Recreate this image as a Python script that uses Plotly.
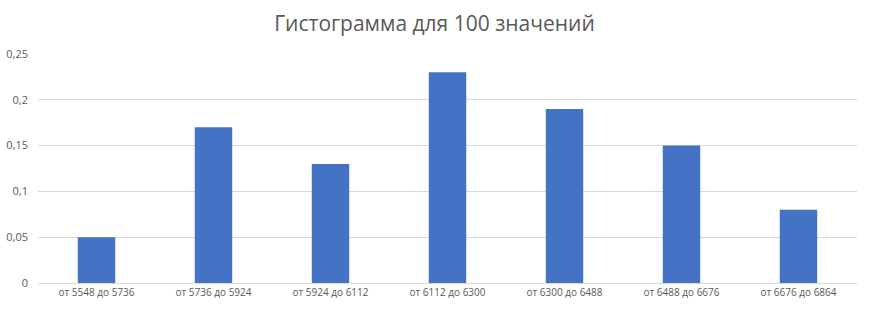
import plotly.graph_objects as go

categories = ["от 5548 до 5736", "от 5736 до 5924", "от 5924 до 6112", "от 6112 до 6300",
              "от 6300 до 6488", "от 6488 до 6676", "от 6676 до 6864"]
values = [0.05, 0.17, 0.13, 0.23, 0.19, 0.15, 0.08]

fig = go.Figure(go.Bar(x=categories, y=values, marker=dict(color="#4472C4", line=dict(width=0)),
                       hoverinfo="x+y"))

fig.update_layout(
    width=869, height=309,
    margin=dict(l=38, r=12, t=54, b=26),
    paper_bgcolor="white", plot_bgcolor="white",
    separators=", ",
    bargap=0.68,
    showlegend=False,
    font=dict(family="Open Sans", color="#595959", size=10),
    title=dict(text="Гистограмма для 100 значений", x=0.5, xanchor="center", y=0.925, yanchor="middle",
               font=dict(family="Open Sans", size=21, color="#595959")),
    xaxis=dict(showgrid=False, showline=True, linecolor="#d9d9d9", linewidth=1, ticks="",
               automargin=False, tickfont=dict(size=10, color="#595959")),
    yaxis=dict(range=[0, 0.25], dtick=0.05, tick0=0, showgrid=True, gridcolor="#d9d9d9",
               gridwidth=1, zeroline=False, showline=False, ticks="", ticklabelstandoff=9,
               automargin=False, tickfont=dict(size=11, color="#595959")),
)

fig.write_html("out.html")
